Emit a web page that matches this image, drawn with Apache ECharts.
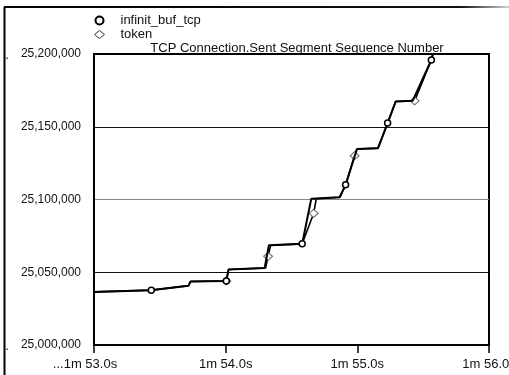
<!DOCTYPE html>
<html>
<head>
<meta charset="utf-8">
<script src="https://cdn.jsdelivr.net/npm/echarts@6/dist/echarts.min.js"></script>
<style>
  html, body { margin: 0; padding: 0; background: #fff; }
  #chart { width: 509px; height: 375px; }
</style>
</head>
<body>
<div id="chart"></div>
<script>
// time in seconds (53.0 = 1m 53.0s), sequence numbers
const tcpTime = [53.00, 53.435, 53.718, 53.733, 54.005, 54.022, 54.296, 54.328, 54.581, 54.650, 54.866, 54.911, 54.997, 55.157, 55.230, 55.291, 55.420, 55.562, 55.580];
const tcpValue = [25036500, 25037700, 25040800, 25043650, 25044050, 25051850, 25052950, 25068500, 25069530, 25100480, 25101580, 25110080, 25134730, 25135280, 25152540, 25167330, 25167810, 25195890, 25202000];
const tcpMarks = [1, 4, 8, 11, 14, 17];

const tokenTime = [53.00, 53.435, 53.718, 53.733, 54.005, 54.022, 54.303, 54.322, 54.341, 54.581, 54.668, 54.688, 54.866, 54.911, 54.979, 54.997, 55.157, 55.230, 55.291, 55.435, 55.562, 55.580];
const tokenValue = [25036500, 25037700, 25040800, 25043650, 25044050, 25051850, 25052950, 25060960, 25068500, 25069530, 25090420, 25100480, 25101580, 25110080, 25130140, 25134730, 25135280, 25152540, 25167330, 25167810, 25195890, 25202000];
const tokenMarks = [4, 7, 10, 14, 19];

const xTicks = {53: '...1m 53.0s', 54: '1m 54.0s', 55: '1m 55.0s', 56: '1m 56.0s'};

function points(times, values, marks, symbol) {
  return times.map((t, i) => ({
    value: [t, values[i]],
    symbol: marks.indexOf(i) >= 0 ? symbol : 'none'
  }));
}

const font = 'Liberation Sans, Arial, sans-serif';
const chart = echarts.init(document.getElementById('chart'));
chart.setOption({
  animation: false,
  backgroundColor: '#fff',
  title: {
    text: 'TCP Connection.Sent Segment Sequence Number',
    left: 292,
    textAlign: 'center',
    top: 37,
    textStyle: { fontFamily: font, fontSize: 13, fontWeight: 'normal', color: '#111' }
  },
  legend: {
    orient: 'vertical',
    left: 89,
    top: 9,
    itemWidth: 10,
    itemHeight: 8,
    itemGap: 1,
    textStyle: { fontFamily: font, fontSize: 13, color: '#111', padding: [0, 0, 0, 11] },
    data: [
      { name: 'infinit_buf_tcp', icon: 'circle', itemStyle: { color: '#fff', borderColor: '#000', borderWidth: 2 } },
      { name: 'token', icon: 'diamond', itemStyle: { color: '#fff', borderColor: '#333', borderWidth: 1 } }
    ]
  },
  grid: {
    left: 94, right: 20, top: 54, bottom: 30,
    outerBoundsMode: 'none',
    containLabel: false,
    show: true, borderColor: '#000', borderWidth: 2
  },
  xAxis: {
    type: 'value',
    min: 53, max: 56, interval: 1,
    axisLine: { lineStyle: { color: '#000', width: 2 } },
    axisTick: { show: true, length: 8, lineStyle: { color: '#000', width: 1.5 } },
    splitLine: { show: false },
    axisLabel: {
      margin: 13,
      hideOverlap: false,
      fontFamily: font, fontSize: 13, color: '#111',
      formatter: v => v === 53 ? '{a|' + xTicks[v] + '}' : (xTicks[v] || ''),
      rich: { a: { fontFamily: font, fontSize: 13, color: '#111', padding: [0, 18, 0, 0] } }
    }
  },
  yAxis: {
    type: 'value',
    min: 25000000, max: 25200000, interval: 50000,
    axisLine: { show: true, lineStyle: { color: '#000', width: 2 } },
    axisTick: { show: false },
    splitLine: { show: true, lineStyle: { color: ['#000', '#111', '#888', '#111', '#000'], width: 1 } },
    axisLabel: {
      margin: 13,
      fontFamily: font, fontSize: 12, color: '#111',
      formatter: v => {
        const s = v.toLocaleString('en-US');
        return (v === 25000000 || v === 25200000) ? '{d|.}' + s : s;
      },
      rich: { d: { fontFamily: font, fontSize: 12, color: '#111', padding: [4, 12, 0, 0] } }
    }
  },
  graphic: [
    { type: 'line', shape: { x1: 4.5, y1: 7, x2: 4.5, y2: 375 }, style: { stroke: '#000', lineWidth: 2 } },
    { type: 'line', shape: { x1: 4, y1: 7, x2: 509, y2: 7 },
      style: { lineWidth: 2, stroke: new echarts.graphic.LinearGradient(0, 0, 1, 0, [
        { offset: 0, color: '#000' }, { offset: 0.9, color: '#111' }, { offset: 1, color: '#ddd' }]) } }
  ],
  series: [
    {
      name: 'token',
      type: 'line',
      symbol: 'diamond',
      symbolSize: [9, 8],
      data: points(tokenTime, tokenValue, tokenMarks, 'diamond'),
      lineStyle: { color: '#000', width: 1.6 },
      itemStyle: { color: '#fff', borderColor: '#666', borderWidth: 1 },
      z: 2
    },
    {
      name: 'infinit_buf_tcp',
      type: 'line',
      symbol: 'circle',
      symbolSize: 6,
      data: points(tcpTime, tcpValue, tcpMarks, 'circle'),
      lineStyle: { color: '#000', width: 2 },
      itemStyle: { color: '#fff', borderColor: '#000', borderWidth: 1.5 },
      z: 3
    }
  ]
});
</script>
</body>
</html>
